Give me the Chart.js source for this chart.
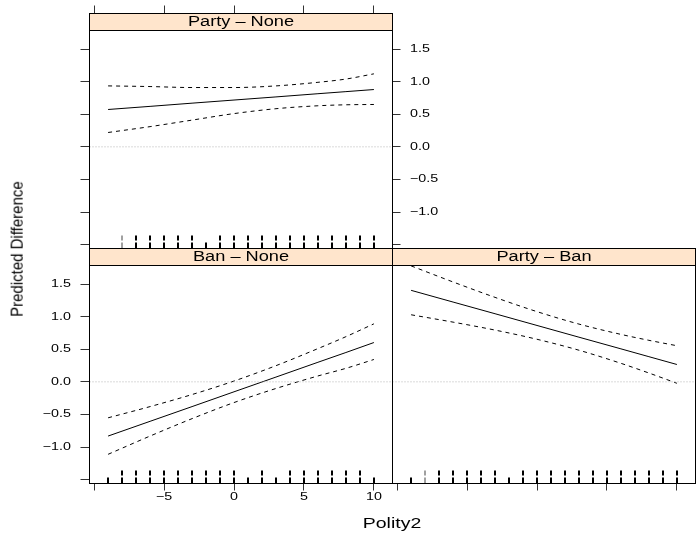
<!DOCTYPE html>
<html>
<head>
<meta charset="utf-8">
<script src="https://cdn.jsdelivr.net/npm/chart.js@4.4.0/dist/chart.umd.min.js"></script>
<style>
  html, body { margin: 0; padding: 0; background: #fff; }
  #wrap { position: relative; width: 696px; height: 535px; overflow: hidden; }
  #wrap canvas { position: absolute; left: 0; top: 0; }
  .axtitle { position: absolute; font-family: "Liberation Sans", Arial, Helvetica, sans-serif; font-size: 15px; color: #000; white-space: nowrap; }
  #ytitle { left: 17px; top: 249px; transform: translate(-50%, -50%) rotate(-90deg) scaleY(1.1); }
  #xtitle { left: 392px; top: 522px; transform: translate(-50%, -50%) scaleX(1.3); }
</style>
</head>
<body>
<div id="wrap">
  <canvas id="pNone" width="696" height="535"></canvas>
  <canvas id="bNone" width="696" height="535"></canvas>
  <canvas id="pBan" width="696" height="535"></canvas>
  <div class="axtitle" id="ytitle">Predicted Difference</div>
  <div class="axtitle" id="xtitle">Polity2</div>
</div>
<script>
// ---- values ----
const xTickValues = [-10, -5, 0, 5, 10];
const xTickLabels = ['', '\u22125', '0', '5', '10'];
const yTickValues = [-1.5, -1.0, -0.5, 0.0, 0.5, 1.0, 1.5];
const yTickLabels = ['', '\u22121.0', '\u22120.5', '0.0', '0.5', '1.0', '1.5'];

const polity = [-9, -6, -3, 0, 3, 6, 8, 10];

const partyNoneFit   = [0.573, 0.621, 0.670, 0.718, 0.766, 0.815, 0.847, 0.879];
const partyNoneUpper = [0.935, 0.925, 0.910, 0.910, 0.935, 0.990, 1.040, 1.120];
const partyNoneLower = [0.220, 0.310, 0.410, 0.510, 0.585, 0.630, 0.645, 0.650];

const banNoneFit   = [-0.832, -0.606, -0.380, -0.153, 0.073, 0.300, 0.450, 0.603];
const banNoneUpper = [-0.552, -0.380, -0.195, 0.012, 0.248, 0.510, 0.693, 0.890];
const banNoneLower = [-1.112, -0.832, -0.565, -0.318, -0.102, 0.090, 0.207, 0.343];

const partyBanFit   = [1.404, 1.224, 1.045, 0.865, 0.685, 0.506, 0.386, 0.266];
const partyBanUpper = [1.779, 1.532, 1.296, 1.077, 0.886, 0.728, 0.637, 0.554];
const partyBanLower = [1.029, 0.916, 0.794, 0.653, 0.485, 0.284, 0.135, -0.022];

// rug of observed Polity2 values, two stacked rows
const partyNoneRugLow  = [-8, -7, -6, -5, -4, -3, -2, -1, 0, 1, 2, 3, 4, 5, 6, 7, 8, 9, 10];
const partyNoneRugHigh = [-8, -7, -6, -5, -4, -3, -1, 0, 1, 2, 3, 4, 5, 6, 7, 8, 9, 10];
const banNoneRugLow    = [-9, -8, -7, -6, -5, -4, -3, -2, -1, 0, 1, 2, 3, 4, 5, 6, 7, 8, 9, 10];
const banNoneRugHigh   = [-8, -7, -6, -5, -4, -3, -2, -1, 0, 2, 4, 5, 6, 7, 8, 9];
const partyBanRugLow   = [-9, -8, -7, -6, -5, -4, -3, -2, -1, 0, 1, 2, 3, 4, 5, 6, 7, 8, 9, 10];
const partyBanRugHigh  = [-8, -7, -6, -5, -4, -3, -1, 0, 1, 2, 3, 4, 5, 6, 7, 8, 9, 10];
const partyNoneRugLight = [-8];
const banNoneRugLight   = [];
const partyBanRugLight  = [-8];

// axis limits (lattice pads the data range)
const X_MIN = -10.33, X_MAX = 11.33;
const Y_MIN = -1.56, Y_MAX = 1.785;

const FONT = '"Liberation Sans", Arial, Helvetica, sans-serif';
const TEXT_SX = 1.3;   // the reference text is drawn wide
const STRIP_H = 17;
const AX = { left: 40, right: 40, top: 30, bottom: 40 };

function wideText(ctx, str, x, y, align, size) {
    ctx.save();
    ctx.font = size + 'px ' + FONT;
    ctx.fillStyle = '#000';
    ctx.textAlign = align;
    ctx.textBaseline = 'middle';
    ctx.translate(x, y);
    ctx.scale(TEXT_SX, 1);
    ctx.fillText(str, 0, 0);
    ctx.restore();
}

// Draws rug, panel frame, strip and tick labels
const panelDecor = {
    id: 'panelDecor',
    afterDatasetsDraw(chart, args, opts) {
        const { ctx, chartArea: a } = chart;
        const x = chart.scales.x;
        ctx.save();
        ctx.lineWidth = 2;
        const rugRow = (vals, y0, y1) => vals.forEach(v => {
            const px = Math.round(x.getPixelForValue(v));
            ctx.strokeStyle = opts.light.includes(v) ? '#a0a0a0' : '#000';
            ctx.beginPath();
            ctx.moveTo(px, y0);
            ctx.lineTo(px, y1);
            ctx.stroke();
        });
        rugRow(opts.rugLow, a.bottom, a.bottom - 6);
        rugRow(opts.rugHigh, a.bottom - 8, a.bottom - 13);
        ctx.restore();
    },
    afterDraw(chart, args, opts) {
        const { ctx, chartArea: a } = chart;
        ctx.save();
        ctx.lineWidth = 1;
        ctx.strokeStyle = '#000';
        ctx.strokeRect(a.left, a.top, a.right - a.left, a.bottom - a.top);
        const st = a.top - STRIP_H;
        ctx.fillStyle = '#ffe5cc';
        ctx.fillRect(a.left, st, a.right - a.left, STRIP_H);
        ctx.strokeRect(a.left, st, a.right - a.left, STRIP_H);
        ctx.restore();
        wideText(ctx, opts.strip, (a.left + a.right) / 2, st + STRIP_H / 2 + 0.5, 'center', 14);

        const { x, y } = chart.scales;
        if (opts.labels.left) {
            yTickValues.forEach((v, i) => wideText(ctx, yTickLabels[i], a.left - 18.5, y.getPixelForValue(v), 'right', 11));
        }
        if (opts.labels.right) {
            yTickValues.forEach((v, i) => wideText(ctx, yTickLabels[i], a.right + 17.5, y.getPixelForValue(v), 'left', 11));
        }
        if (opts.labels.bottom) {
            xTickValues.forEach((v, i) => wideText(ctx, xTickLabels[i], x.getPixelForValue(v), a.bottom + 13.5, 'center', 11));
        }
    }
};

function axis(kind, position, show, tickLen) {
    const isX = kind === 'x';
    const values = isX ? xTickValues : yTickValues;
    const size = show ? AX[position] : 0;
    return {
        type: 'linear',
        position: position,
        display: show,
        min: isX ? X_MIN : Y_MIN,
        max: isX ? X_MAX : Y_MAX,
        afterBuildTicks: s => { s.ticks = values.map(v => ({ value: v })); },
        afterFit: s => { if (isX) s.height = size; else s.width = size; },
        border: { display: false },
        grid: { drawOnChartArea: false, drawTicks: true, tickLength: tickLen, color: '#333', lineWidth: 1 },
        ticks: { autoSkip: false, maxRotation: 0, callback: () => '' }
    };
}

function panelChart(id, p) {
    const shown = p.shown;
    const padding = {
        left: p.box.left - (shown.left ? AX.left : 0),
        right: 696 - p.box.right - (shown.right ? AX.right : 0),
        top: p.box.top - (shown.top ? AX.top : 0),
        bottom: 535 - p.box.bottom - (shown.bottom ? AX.bottom : 0)
    };
    const pts = ys => polity.map((v, i) => ({ x: v, y: ys[i] }));
    const dashed = ys => ({
        data: pts(ys), borderColor: '#000', borderWidth: 1, borderDash: [4, 4],
        pointRadius: 0, tension: 0.4, cubicInterpolationMode: 'monotone'
    });
    return new Chart(document.getElementById(id), {
        type: 'line',
        data: {
            datasets: [
                {
                    data: [{ x: X_MIN, y: 0 }, { x: X_MAX, y: 0 }],
                    borderColor: '#b4b4b4', borderWidth: 1, borderDash: [1, 2], pointRadius: 0
                },
                dashed(p.upper),
                dashed(p.lower),
                { data: pts(p.fit), borderColor: '#000', borderWidth: 1, pointRadius: 0, tension: 0 }
            ]
        },
        options: {
            responsive: false,
            animation: false,
            devicePixelRatio: 1,
            events: [],
            layout: { padding: padding },
            scales: {
                x: axis('x', 'bottom', shown.bottom, 7),
                x2: axis('x', 'top', shown.top, STRIP_H + 8),
                y: axis('y', 'left', shown.left, 9),
                y2: axis('y', 'right', shown.right, 8)
            },
            plugins: {
                legend: { display: false },
                tooltip: { enabled: false },
                panelDecor: { strip: p.strip, labels: p.labels, rugLow: p.rugLow, rugHigh: p.rugHigh, light: p.light }
            }
        },
        plugins: [panelDecor]
    });
}

panelChart('pNone', {
    strip: 'Party \u2013 None',
    box: { left: 89.5, right: 392.5, top: 30.5, bottom: 248.5 },
    shown: { left: true, right: true, top: true, bottom: false },
    labels: { left: false, right: true, bottom: false },
    fit: partyNoneFit, upper: partyNoneUpper, lower: partyNoneLower,
    rugLow: partyNoneRugLow, rugHigh: partyNoneRugHigh, light: partyNoneRugLight
});

panelChart('bNone', {
    strip: 'Ban \u2013 None',
    box: { left: 89.5, right: 392.5, top: 265.5, bottom: 483.5 },
    shown: { left: true, right: false, top: false, bottom: true },
    labels: { left: true, right: false, bottom: true },
    fit: banNoneFit, upper: banNoneUpper, lower: banNoneLower,
    rugLow: banNoneRugLow, rugHigh: banNoneRugHigh, light: banNoneRugLight
});

panelChart('pBan', {
    strip: 'Party \u2013 Ban',
    box: { left: 392.5, right: 695.5, top: 265.5, bottom: 483.5 },
    shown: { left: false, right: false, top: false, bottom: true },
    labels: { left: false, right: false, bottom: false },
    fit: partyBanFit, upper: partyBanUpper, lower: partyBanLower,
    rugLow: partyBanRugLow, rugHigh: partyBanRugHigh, light: partyBanRugLight
});
</script>
</body>
</html>
